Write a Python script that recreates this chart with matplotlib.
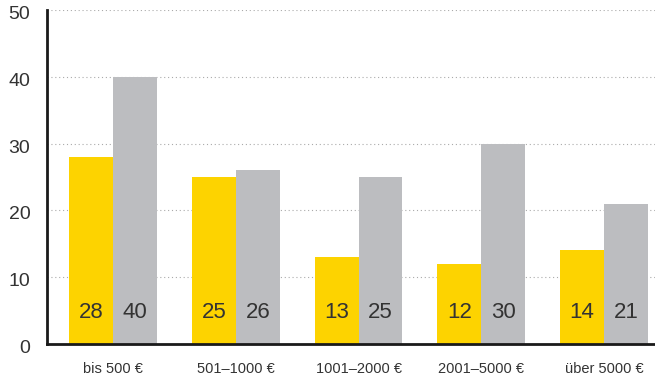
import numpy as np
import matplotlib.pyplot as plt

plt.rcParams['font.family'] = ['Liberation Sans', 'DejaVu Sans']

categories = ['bis 500 €', '501–1000 €', '1001–2000 €', '2001–5000 €', 'über 5000 €']
yellow_vals = [28, 25, 13, 12, 14]
gray_vals = [40, 26, 25, 30, 21]

yellow = '#FDD300'
gray = '#BCBDC0'
text_col = '#333333'

fig = plt.figure(figsize=(6.55, 3.75), dpi=100)
ax = fig.add_axes([47 / 655, 31 / 375, 608 / 655, 334 / 375])

x = np.arange(len(categories))
w = 0.358
ax.bar(x - w / 2, yellow_vals, w, color=yellow, zorder=2)
ax.bar(x + w / 2, gray_vals, w, color=gray, zorder=2)

# value labels near the foot of each bar
for xi, yv, gv in zip(x, yellow_vals, gray_vals):
    ax.text(xi - w / 2, 4.7, str(yv), ha='center', va='center',
            fontsize=16, color=text_col, zorder=3)
    ax.text(xi + w / 2, 4.7, str(gv), ha='center', va='center',
            fontsize=16, color=text_col, zorder=3)

ax.set_xlim(-0.538, 4.415)
ax.set_ylim(0, 50)
ax.set_yticks(range(0, 51, 10))
ax.yaxis.grid(True, linestyle=(0, (1, 2.5)), color='#aaaaaa', linewidth=0.8, zorder=1)
ax.set_axisbelow(True)

ax.set_xticks(x)
ax.set_xticklabels(categories, fontsize=10.5, color=text_col)
ax.tick_params(axis='x', length=0, pad=13)
ax.tick_params(axis='y', length=0, pad=12, labelsize=14, labelcolor=text_col)
for lbl in ax.get_yticklabels():
    lbl.set_verticalalignment('top')
    lbl.set_y(lbl.get_position()[1])
# nudge y labels a little below their gridlines
import matplotlib.transforms as mtransforms
offset = mtransforms.ScaledTranslation(0, 4 / 100, fig.dpi_scale_trans)
for lbl in ax.get_yticklabels():
    lbl.set_transform(lbl.get_transform() + offset)

for side in ['top', 'right']:
    ax.spines[side].set_visible(False)
ax.spines['left'].set_linewidth(2)
ax.spines['bottom'].set_linewidth(2)
ax.spines['left'].set_color('#1a1a1a')
ax.spines['bottom'].set_color('#1a1a1a')

fig.savefig('out.png', dpi=100)
